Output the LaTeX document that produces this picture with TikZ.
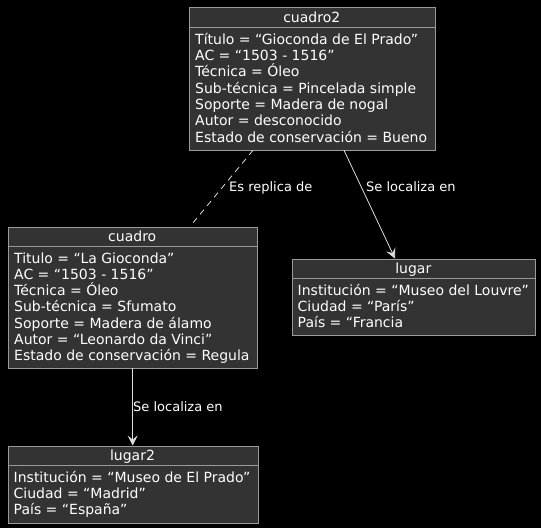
\documentclass[tikz,border=0pt]{standalone}
\usepackage{fontspec}
\setmainfont{DejaVu Sans}
\usetikzlibrary{arrows.meta}
\definecolor{boxfill}{HTML}{333333}
\definecolor{boxline}{HTML}{9A9A9A}
\definecolor{edgeline}{HTML}{DDDDDD}
\tikzset{
  objbox/.style={draw=boxline, fill=boxfill, line width=0.8pt, rectangle, inner sep=0pt},
  sepline/.style={draw=boxline, line width=0.8pt},
  titletext/.style={text=white, font=\fontsize{14}{16.3}\selectfont, inner sep=0pt, anchor=base},
  attrtext/.style={text=white, font=\fontsize{14}{16.3}\selectfont, inner sep=0pt, anchor=base west, align=left},
  edgelabel/.style={text=white, font=\fontsize{13}{15}\selectfont, inner sep=0pt, anchor=base west},
  rel/.style={draw=edgeline, line width=0.8pt},
  arr/.style={rel, -{Stealth[length=10pt, width=10pt, inset=4pt]}},
}
\begin{document}
\begin{tikzpicture}[x=1pt, y=-1pt]
\fill[black] (0,0) rectangle (541,528);
\useasboundingbox (0,0) rectangle (541,528);

% cuadro2
\node[objbox, minimum width=245.5pt, minimum height=142.5pt, anchor=north west] (c2) at (189,7) {};
\draw[sepline] (189,27.3) -- (434.5,27.3);
\node[titletext] (c2t) at (311.75,22) {cuadro2};
\node[attrtext] (c2a) at (195,142.1) {Título = “Gioconda de El Prado”\\AC = “1503 - 1516”\\Técnica = Óleo\\Sub-técnica = Pincelada simple\\Soporte = Madera de nogal\\Autor = desconocido\\Estado de conservación = Bueno};

% cuadro
\node[objbox, minimum width=248.5pt, minimum height=141pt, anchor=north west] (c1) at (8,226.5) {};
\draw[sepline] (8,246) -- (256.5,246);
\node[titletext] (c1t) at (132.25,241.5) {cuadro};
\node[attrtext] (c1a) at (14,360.8) {Titulo = “La Gioconda”\\AC = “1503 - 1516”\\Técnica = Óleo\\Sub-técnica = Sfumato\\Soporte = Madera de álamo\\Autor = “Leonardo da Vinci”\\Estado de conservación = Regula};

% lugar
\node[objbox, minimum width=243.5pt, minimum height=76.5pt, anchor=north west] (l1) at (291.5,258.5) {};
\draw[sepline] (291.5,278.3) -- (535,278.3);
\node[titletext] (l1t) at (413.25,273.5) {lugar};
\node[attrtext] (l1a) at (297.5,327.9) {Institución = “Museo del Louvre”\\Ciudad = “París”\\País = “Francia};

% lugar2
\node[objbox, minimum width=250pt, minimum height=77pt, anchor=north west] (l2) at (7.5,445.5) {};
\draw[sepline] (7.5,465) -- (257.5,465);
\node[titletext] (l2t) at (132.5,460.5) {lugar2};
\node[attrtext] (l2a) at (13.5,514.6) {Institución = “Museo de El Prado”\\Ciudad = “Madrid”\\País = “España”};

% connectors
\coordinate (d1) at ([xshift=64pt]c2.south west);
\coordinate (d2) at ([xshift=182pt]c1.north west);
\draw[rel, dash pattern=on 6pt off 5pt] (d1) -- (d2);
\coordinate (a1) at ([xshift=155pt]c2.south west);
\coordinate (a2) at ([xshift=103.5pt]l1.north west);
\draw[arr] (a1) -- (a2);
\draw[arr] (c1.south) -- (l2.north -| c1.south);

\node[edgelabel] (e1) at (229,191) {Es replica de};
\node[edgelabel] (e2) at (366,191) {Se localiza en};
\node[edgelabel] (e3) at (133,411) {Se localiza en};
\end{tikzpicture}
\end{document}
